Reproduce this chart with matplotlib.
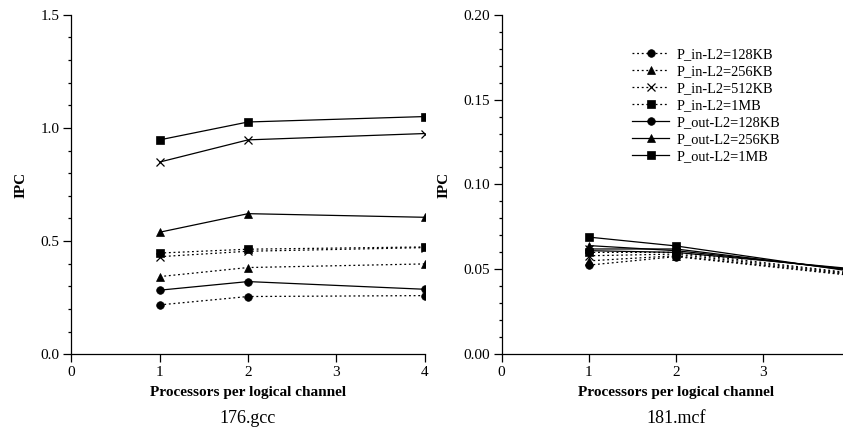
import matplotlib
matplotlib.use("Agg")
import matplotlib.pyplot as plt
from matplotlib.ticker import MultipleLocator, FixedLocator, FormatStrFormatter

plt.rcParams['font.family'] = ['Liberation Serif', 'DejaVu Serif']

procs = [1, 2, 4]

# 176.gcc IPC
gcc_in_128k = [0.218, 0.255, 0.259]
gcc_in_256k = [0.343, 0.383, 0.399]
gcc_in_512k = [0.431, 0.455, 0.471]
gcc_in_1m = [0.447, 0.464, 0.474]
gcc_out_128k = [0.283, 0.321, 0.287]
gcc_out_256k = [0.539, 0.621, 0.605]
gcc_out_512k = [0.849, 0.947, 0.975]
gcc_out_1m = [0.947, 1.026, 1.050]

# 181.mcf IPC
mcf_in_128k = [0.0525, 0.0575, 0.0465]
mcf_in_256k = [0.055, 0.058, 0.047]
mcf_in_512k = [0.058, 0.059, 0.0475]
mcf_in_1m = [0.060, 0.060, 0.048]
mcf_out_128k = [0.061, 0.060, 0.0505]
mcf_out_256k = [0.064, 0.061, 0.050]
mcf_out_512k = [0.062, 0.062, 0.0495]
mcf_out_1m = [0.069, 0.0638, 0.049]

labels = ["P_in-L2=128KB", "P_in-L2=256KB", "P_in-L2=512KB", "P_in-L2=1MB",
          "P_out-L2=128KB", "P_out-L2=256KB", None, "P_out-L2=1MB"]
markers = ["o", "^", "x", "s", "o", "^", "x", "s"]
dotted = (0, (1.5, 2.2))
styles = [dotted] * 4 + ["-"] * 4

gcc = [gcc_in_128k, gcc_in_256k, gcc_in_512k, gcc_in_1m,
       gcc_out_128k, gcc_out_256k, gcc_out_512k, gcc_out_1m]
mcf = [mcf_in_128k, mcf_in_256k, mcf_in_512k, mcf_in_1m,
       mcf_out_128k, mcf_out_256k, mcf_out_512k, mcf_out_1m]

fig = plt.figure(figsize=(8.43, 4.32), dpi=100)
ax1 = fig.add_axes([0.0845, 0.180, 0.4195, 0.786])
ax2 = fig.add_axes([0.5951, 0.180, 0.4132, 0.786])


def draw(ax, series, ymax, ymajor, yminor, fmt, xticks, title):
    for vals, lab, m, ls in zip(series, labels, markers, styles):
        ax.plot(procs, vals, color="black", linestyle=ls, linewidth=0.9,
                marker=m, markersize=5.5, markeredgewidth=0.9 if m == "x" else 0.5,
                label=lab if lab else "_nolegend_")
    ax.set_xlim(0, 4)
    ax.set_ylim(0, ymax)
    ax.xaxis.set_major_locator(FixedLocator(xticks))
    ax.yaxis.set_major_locator(MultipleLocator(ymajor))
    ax.yaxis.set_minor_locator(MultipleLocator(yminor))
    ax.yaxis.set_major_formatter(FormatStrFormatter(fmt))
    for s in ("top", "right"):
        ax.spines[s].set_visible(False)
    for s in ("left", "bottom"):
        ax.spines[s].set_linewidth(0.9)
    ax.tick_params(axis="both", which="major", direction="out", length=5.5,
                   width=0.9, labelsize=11, pad=3)
    ax.tick_params(axis="y", which="minor", direction="out", length=2.4, width=0.9)
    ax.set_ylabel("IPC", fontsize=11, fontweight="bold", labelpad=9)
    ax.set_xlabel("Processors per logical channel", fontsize=11,
                  fontweight="bold", labelpad=5)
    ax.text(0.5, -0.165, title, transform=ax.transAxes, ha="center", va="top",
            fontsize=13)


draw(ax1, gcc, 1.5, 0.5, 0.1, "%.1f", [0, 1, 2, 3, 4], "176.gcc")
draw(ax2, mcf, 0.20, 0.05, 0.01, "%.2f", [0, 1, 2, 3], "181.mcf")

ax2.legend(loc="upper left", bbox_to_anchor=(0.374, 0.903), frameon=False,
           fontsize=10.4, handlelength=2.6, handletextpad=0.5, labelspacing=0.27,
           borderpad=0, borderaxespad=0)

fig.savefig("out.png", dpi=100)
